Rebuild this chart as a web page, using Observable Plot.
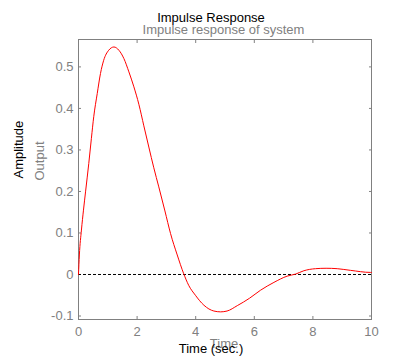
<!DOCTYPE html>
<html>
<head>
<meta charset="utf-8">
<script src="https://cdn.jsdelivr.net/npm/d3@7"></script>
<script src="https://cdn.jsdelivr.net/npm/@observablehq/plot@0.6"></script>
<style>
  html, body { margin: 0; padding: 0; background: white; }
  #chart { width: 412px; height: 359px; overflow: hidden; }
</style>
</head>
<body>
<div id="chart"></div>
<script>
// Values
const time = [0, 0.03, 0.10, 0.17, 0.24, 0.35, 0.44, 0.52, 0.64, 0.75, 0.86, 1.03, 1.21, 1.38, 1.55, 1.72, 1.89, 2.06, 2.23, 2.40, 2.57, 2.74, 2.95, 3.14, 3.37, 3.59, 3.76, 3.99, 4.28, 4.62, 4.85, 5.07, 5.42, 5.84, 6.21, 6.67, 7.12, 7.41, 7.69, 8.09, 8.45, 8.83, 9.28, 9.97, 10.0];
const amplitude = [0, 0.047, 0.107, 0.155, 0.199, 0.267, 0.328, 0.380, 0.436, 0.484, 0.516, 0.540, 0.548, 0.540, 0.520, 0.488, 0.452, 0.410, 0.358, 0.307, 0.257, 0.211, 0.153, 0.099, 0.047, 0.002, -0.026, -0.050, -0.074, -0.088, -0.090, -0.088, -0.075, -0.057, -0.038, -0.019, -0.004, 0.001, 0.009, 0.014, 0.015, 0.014, 0.010, 0.005, 0.005];
const xTicks = [0, 2, 4, 6, 8, 10];
const yTicks = [-0.1, 0, 0.1, 0.2, 0.3, 0.4, 0.5];
const yTickLabels = ["-0.1", "0", "0.1", "0.2", "0.3", "0.4", "0.5"];
const titleText = ["Impulse Response"];
const subtitleText = ["Impulse response of system"];
const yLabelText = ["Amplitude"];
const yLabel2Text = ["Output"];
const xLabelText = ["Time (sec.)"];
const xLabel2Text = ["Time"];

const gray = "#808080";

const chart = Plot.plot({
  width: 412,
  height: 359,
  marginLeft: 78,
  marginRight: 41,
  marginTop: 39,
  marginBottom: 40,
  style: { fontFamily: "'Liberation Sans', Arial, sans-serif", fontSize: "13px", background: "white", color: "black" },
  x: { domain: [0, 10] },
  y: { domain: [-0.1084, 0.566] },
  marks: [
    Plot.frame({ stroke: gray }),
    // inward ticks
    Plot.axisX(xTicks, { anchor: "bottom", tickSize: -3, stroke: gray, fill: "none", label: null }),
    Plot.axisX(xTicks, { anchor: "top", tickSize: -3, stroke: gray, fill: "none", label: null }),
    Plot.axisY(yTicks, { anchor: "left", tickSize: -3, stroke: gray, fill: "none", label: null }),
    Plot.axisY(yTicks, { anchor: "right", tickSize: -3, stroke: gray, fill: "none", label: null }),
    // tick labels
    Plot.axisX(xTicks, { anchor: "bottom", tickSize: 0, tickPadding: 7, fill: gray, stroke: "none", label: null, fontSize: 13 }),
    Plot.axisY(yTicks, { anchor: "left", tickSize: 0, tickPadding: 5, fill: gray, stroke: "none", label: null, fontSize: 13,
      tickFormat: (d) => yTickLabels[yTicks.indexOf(d)] }),
    Plot.ruleY([0], { stroke: "black", strokeDasharray: "3,2" }),
    Plot.line(amplitude, { x: time, y: amplitude, stroke: "#ff0000", strokeWidth: 1, curve: "monotone-x" }),
    // titles and labels
    Plot.text(titleText, { text: (d) => d, frameAnchor: "top", dx: -14, dy: -26.5, fill: "black", fontSize: 13 }),
    Plot.text(subtitleText, { text: (d) => d, frameAnchor: "top", dx: -1.5, dy: -14.5, fill: gray, fontSize: 13 }),
    Plot.text(yLabelText, { text: (d) => d, frameAnchor: "left", dx: -59.7, dy: -1, rotate: -90, fill: "black", fontSize: 13 }),
    Plot.text(yLabel2Text, { text: (d) => d, frameAnchor: "left", dx: -38.7, dy: 1, rotate: -90, fill: gray, fontSize: 13 }),
    Plot.text(xLabel2Text, { text: (d) => d, frameAnchor: "bottom", dx: -1, dy: 28, fill: gray, fontSize: 13 }),
    Plot.text(xLabelText, { text: (d) => d, frameAnchor: "bottom", dx: -14, dy: 33, fill: "black", fontSize: 13 })
  ]
});
document.getElementById("chart").appendChild(chart);
</script>
</body>
</html>
